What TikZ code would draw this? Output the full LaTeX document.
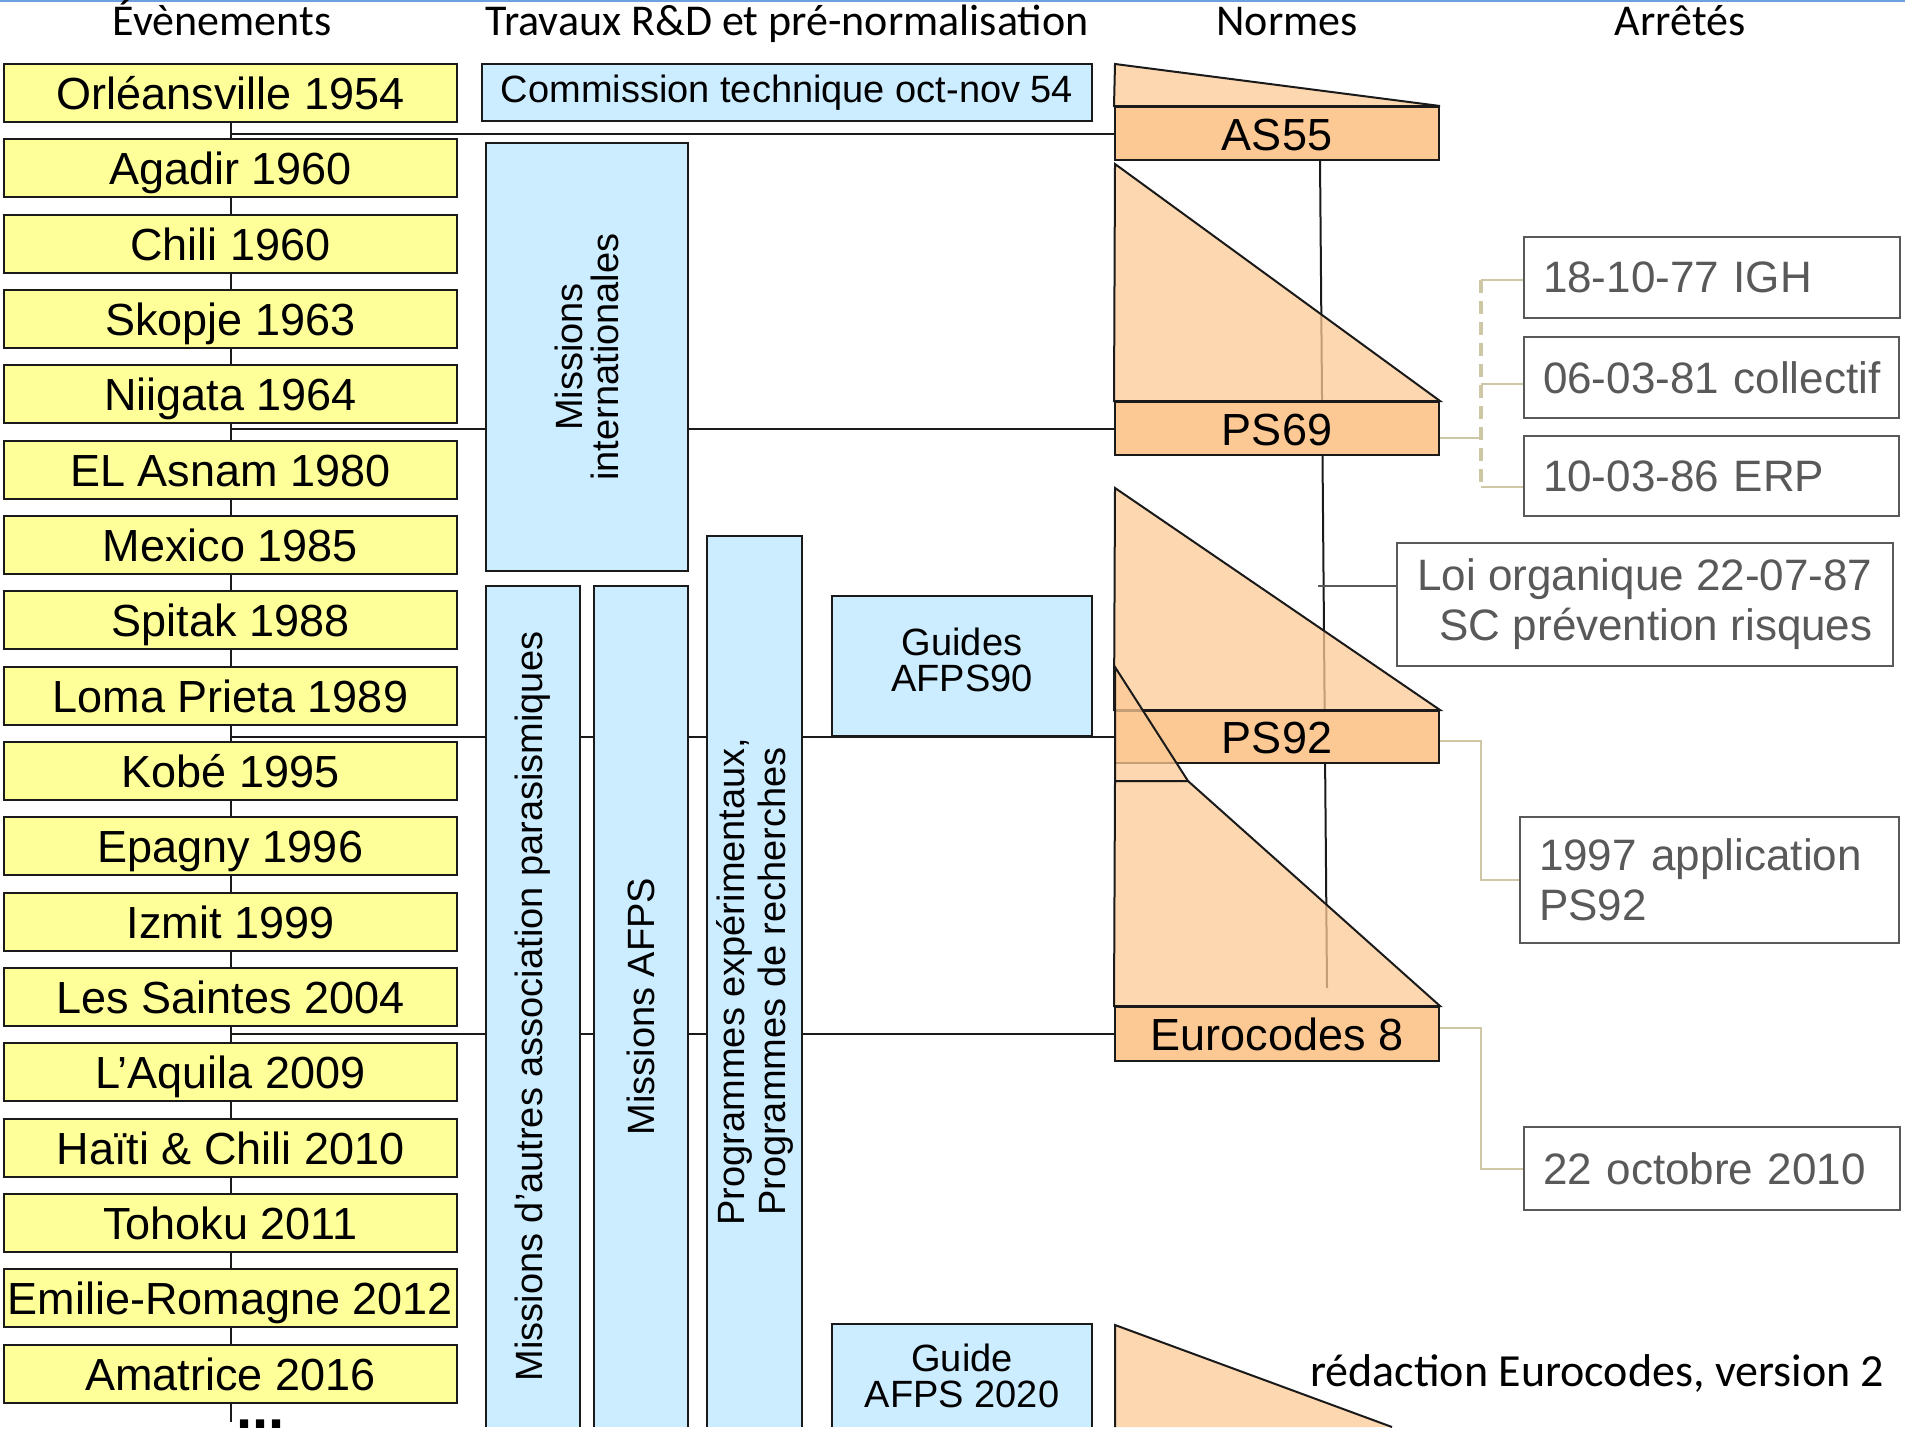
\documentclass[tikz,border=0pt]{standalone}
\usepackage{fontspec}
\setmainfont{Liberation Sans}
\newfontfamily\calfont{Carlito}
\usetikzlibrary{backgrounds}
\definecolor{ylw}{RGB}{255,255,153}
\definecolor{blu}{RGB}{204,236,255}
\definecolor{org}{RGB}{252,201,149}
\definecolor{edgec}{RGB}{26,26,26}
\definecolor{gry}{RGB}{89,89,89}
\definecolor{tanc}{RGB}{206,199,165}
\definecolor{topblue}{RGB}{110,160,225}
\begin{document}
\begin{tikzpicture}[x=1pt,y=-1pt,
  ybox/.style={draw=edgec, line width=2pt, fill=ylw, minimum width=453pt, minimum height=58pt, inner sep=0pt, text height=33pt, text depth=0pt, font=\fontsize{45}{50}\selectfont},
  bbox/.style={draw=edgec, line width=2pt, fill=blu, inner sep=0pt, align=center, font=\fontsize{38}{36}\selectfont},
  bcol/.style={fill=blu, inner sep=0pt, align=center, font=\fontsize{38}{41}\selectfont},
  coledge/.style={draw=edgec, line width=2pt},
  nbox/.style={draw=edgec, line width=2pt, fill=org, minimum width=324pt, inner sep=0pt, text height=33pt, text depth=0pt, font=\fontsize{45}{50}\selectfont},
  tri/.style={draw=edgec, line width=2pt, fill=org, fill opacity=0.75, line join=miter},
  trifill/.style={fill=org, fill opacity=0.75},
  rbox/.style={draw=gry, line width=2pt, inner xsep=19pt, inner ysep=0pt, text=gry, font=\fontsize{44}{50}\selectfont},
  conn/.style={draw=edgec, line width=2pt},
  gconn/.style={draw=gry, line width=2pt},
  tconn/.style={draw=tanc, line width=2pt},
  tdash/.style={draw=tanc, line width=3.5pt, dash pattern=on 13pt off 8pt},
  head/.style={font=\calfont\fontsize{44}{48}\selectfont, anchor=base, inner sep=0pt},
]
\useasboundingbox (0,0) rectangle (1905,1440);
\draw[topblue, line width=2.5pt] (0,1) -- (1905,1);

% headers
\node[head] (h1) at (222,35) {Évènements};
\node[head] (h2) at (787,35) {Travaux R\&D et pré-normalisation};
\node[head] (h3) at (1287,35) {Normes};
\node[head] (h4) at (1680,35) {Arrêtés};

% events
\foreach \t [count=\i from 0] in {Orléansville 1954, Agadir 1960, Chili 1960, Skopje 1963, Niigata 1964, EL Asnam 1980, Mexico 1985, Spitak 1988, Loma Prieta 1989, Kobé 1995, Epagny 1996, Izmit 1999, Les Saintes 2004, L’Aquila 2009, Haïti \& Chili 2010, Tohoku 2011, Emilie-Romagne 2012, Amatrice 2016}
  \node[ybox] (e\i) at (230.5,{93+75.33*\i}) {\t};
\coordinate (evend) at (230.5,1422);
\node[font=\bfseries\fontsize{58}{60}\selectfont, anchor=base west, inner sep=0pt, text height=9pt, text depth=0pt] (dots) at (236,1428) {...};

% R&D column
\node[bbox, minimum width=610pt, minimum height=57pt] (com) at (787,92.5) {Commission technique oct-nov 54};
\node[bbox, rotate=90, minimum width=428pt, minimum height=202pt] (mi) at (587,357) {Missions\\internationales};
\node[bcol, rotate=90, minimum width=841pt, minimum height=94pt] (ma) at (533,1006.5) {Missions d’autres association parasismiques};
\node[bcol, rotate=90, minimum width=841pt, minimum height=94pt] (mafps) at (641,1006.5) {Missions AFPS};
\node[bcol, rotate=90, minimum width=891pt, minimum height=95pt] (prog) at (754.5,981.5) {Programmes expérimentaux,\\Programmes de recherches};
\draw[coledge] (ma.north west) -- (ma.north east) -- (ma.south east) -- (ma.south west);
\draw[coledge] (mafps.north west) -- (mafps.north east) -- (mafps.south east) -- (mafps.south west);
\draw[coledge] (prog.north west) -- (prog.north east) -- (prog.south east) -- (prog.south west);
\node[bbox, minimum width=260pt, minimum height=140pt] (g90) at (962,666) {Guides\\AFPS90\\[-34pt]\strut};
\node[bcol, minimum width=260pt, minimum height=103pt, font=\fontsize{38}{36}\selectfont] (g20) at (962,1375.5) {Guide\\AFPS 2020};
\draw[coledge] (g20.south west) -- (g20.north west) -- (g20.north east) -- (g20.south east);

% norms
\node[nbox, minimum height=53pt] (as55) at (1277,133.5) {AS55};
\node[nbox, minimum height=53pt] (ps69) at (1277,428.5) {PS69};
\node[nbox, minimum height=52pt] (ps92) at (1277,737) {PS92};
\node[nbox, minimum height=54pt] (eur) at (1277,1034) {Eurocodes 8};

\draw[tri] (1115,64) -- (as55.north east) -- (as55.north west) -- cycle;
\draw[tri] (1115,164) -- (ps69.north east) -- (ps69.north west) -- cycle;
\draw[tri] (1115,488) -- (ps92.north east) -- (ps92.north west) -- cycle;
\draw[tri] (1115,667) -- (1188,781) -- (1115,781) -- cycle;
\draw[tri] (1115,781) -- (1188,781) -- (eur.north east) -- (eur.north west) -- cycle;
\fill[trifill] (1115,1325) -- (1392,1427) -- (1115,1427) -- cycle;
\draw[conn] (1115,1427) -- (1115,1325) -- (1392,1427);
\node[font=\calfont\fontsize{46}{50}\selectfont, anchor=base west, inner sep=0pt] (red) at (1310,1386) {rédaction Eurocodes, version 2};

% arretes
\node[rbox, text width=338pt, align=left, minimum height=81pt] (a1) at (1712,277.5) {\mbox{18-10-77 IGH}};
\node[rbox, text width=337pt, align=left, minimum height=81pt] (a2) at (1711.5,377.5) {\mbox{06-03-81 collectif}};
\node[rbox, text width=337pt, align=left, minimum height=80pt] (a3) at (1711.5,476) {\mbox{10-03-86 ERP}};
\node[rbox, align=right, inner xsep=0pt, minimum width=496pt, minimum height=123pt] (loi) at (1645,604.5) {Loi organique 22-07-87\\SC prévention risques};
\node[rbox, text width=341pt, align=left, minimum height=126pt] (a4) at (1709.5,880) {1997 application\\PS92};
\node[rbox, text width=338pt, align=left, minimum height=83pt] (a5) at (1712,1168.5) {\mbox{22 octobre 2010}};

% connectors
\coordinate (nvtop) at (1320,160);
\coordinate (nvbot) at (1327,988);
\coordinate (lc) at (1318,586);
\coordinate (k1) at (1481,438);
\coordinate (k2) at (1481,741);
\coordinate (k3) at (1481,1028);
\begin{pgfonlayer}{background}
\draw[conn] (e0.center) -- (e17.center);
\draw[conn] (e17.south) -- (evend);
\draw[conn] (e0.center |- as55.west) -- (as55.west);
\draw[conn] (e0.center |- ps69.west) -- (ps69.west);
\draw[conn] (e0.center |- ps92.west) -- (ps92.west);
\draw[conn] (e0.center |- eur.west) -- (eur.west);
\draw[conn] (nvtop) -- (nvbot);
\draw[gconn] (lc) -- (lc -| loi.west);
\draw[tconn] (ps69.east |- k1) -- (k1);
\draw[tdash] (1481,280) -- (1481,487);
\draw[tconn] (1481,280) -- (a1.west |- 0,280);
\draw[tconn] (1481,384) -- (a2.west |- 0,384);
\draw[tconn] (1481,487) -- (a3.west |- 0,487);
\draw[tconn] (ps92.east |- k2) -- (k2) |- (a4.west);
\draw[tconn] (eur.east |- k3) -- (k3) |- (a5.west);
\end{pgfonlayer}
\end{tikzpicture}
\end{document}
